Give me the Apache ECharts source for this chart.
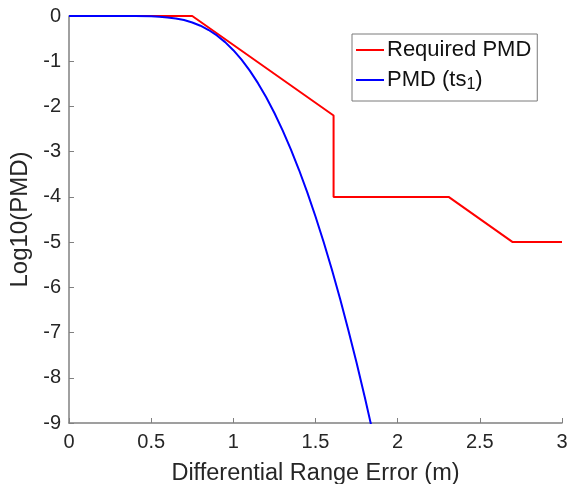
<!doctype html>
<html>
	<head>
		<meta charset="utf-8">
		<title>PMD</title>
		<script src="https://cdn.jsdelivr.net/npm/echarts@6/dist/echarts.min.js"></script>
		<style>
			html, body { margin: 0; padding: 0; background: #fff; }
		</style>
	</head>
	<body>
		<div id="main" style="width: 568px; height: 484px;"></div>
		<script type="text/javascript">
			// required PMD (piecewise)
			var reqX = [0, 0.75, 1.61, 1.61, 2.31, 2.7, 3]
			var reqY = [0, 0, -2.2, -4, -4, -5, -5]
			// PMD (ts1)
			var pmdX = [0, 0.3, 0.4, 0.5, 0.55, 0.6, 0.65, 0.7, 0.75, 0.8, 0.85, 0.9, 0.95, 1.0, 1.05, 1.1, 1.15, 1.2, 1.25, 1.3, 1.35, 1.4, 1.45, 1.5, 1.55, 1.6, 1.65, 1.7, 1.75, 1.8, 1.84, 1.86]
			var pmdY = [0, 0, -0.002, -0.008, -0.016, -0.031, -0.054, -0.09, -0.143, -0.215, -0.31, -0.43, -0.578, -0.756, -0.966, -1.208, -1.485, -1.797, -2.144, -2.529, -2.949, -3.406, -3.901, -4.433, -5.004, -5.61, -6.26, -6.95, -7.67, -8.43, -9.07, -9.4]
			var legendNames = ['Required PMD', 'PMD (ts1)']

			function pairs(xs, ys) {
				var out = []
				for (var i = 0; i < xs.length; i++) {
					out.push([xs[i], ys[i]])
				}
				return out
			}

			var myChart = echarts.init(document.getElementById('main'));
			var axisColor = '#808080'
			var textColor = '#262626'
			var font = 'Liberation Sans, Arial, Helvetica, sans-serif'

			var option = {
				animation: false,
				textStyle: { fontFamily: font },
				grid: {
					left: 69,
					right: 6,
					top: 16,
					bottom: 61,
					containLabel: false,
					outerBoundsMode: 'none'
				},
				legend: {
					data: legendNames,
					orient: 'vertical',
					left: 352,
					top: 34,
					padding: [5, 6, 8, 4],
					itemGap: 8,
					itemWidth: 28,
					itemHeight: 22,
					borderColor: '#7a7a7a',
					borderWidth: 1,
					icon: 'path://M0,10 L28,10 L28,12 L0,12 Z',
					textStyle: {
						fontSize: 22,
						color: '#111',
						padding: [0, 0, 0, -2],
						rich: {
							sub: { fontSize: 16, verticalAlign: 'bottom', padding: [10, 0, 0, 0], color: '#111' }
						}
					},
					formatter: function (name) {
						if (name == 'PMD (ts1)') return 'PMD (ts{sub|1})'
						return name
					}
				},
				xAxis: {
					type: 'value',
					min: 0,
					max: 3,
					interval: 0.5,
					name: 'Differential Range Error (m)',
					nameLocation: 'middle',
					nameGap: 39,
					nameTextStyle: { fontSize: 23.5, color: textColor },
					axisLine: { show: true, onZero: false, lineStyle: { color: axisColor, width: 1.5 } },
					axisTick: { show: true, inside: true, length: 5, lineStyle: { color: axisColor } },
					axisLabel: { fontSize: 20, color: textColor, margin: 9 },
					splitLine: { show: false }
				},
				yAxis: {
					type: 'value',
					min: -9,
					max: 0,
					interval: 1,
					name: 'Log10(PMD)',
					nameLocation: 'middle',
					nameGap: 28,
					nameTextStyle: { fontSize: 24, color: textColor },
					axisLine: { show: true, onZero: false, lineStyle: { color: axisColor, width: 1.5 } },
					axisTick: { show: true, inside: true, length: 5, lineStyle: { color: axisColor } },
					axisLabel: { fontSize: 20, color: textColor, margin: 8 },
					splitLine: { show: false }
				},
				series: [{
						name: 'Required PMD',
						type: 'line',
						showSymbol: false,
						clip: true,
						color: '#ff0000',
						lineStyle: { width: 2, color: '#ff0000' },
						data: pairs(reqX, reqY)
					},
					{
						name: 'PMD (ts1)',
						type: 'line',
						showSymbol: false,
						clip: true,
						color: '#0000ff',
						lineStyle: { width: 2, color: '#0000ff' },
						data: pairs(pmdX, pmdY)
					}
				]
			};

			myChart.setOption(option);
		</script>
	</body>
</html>
